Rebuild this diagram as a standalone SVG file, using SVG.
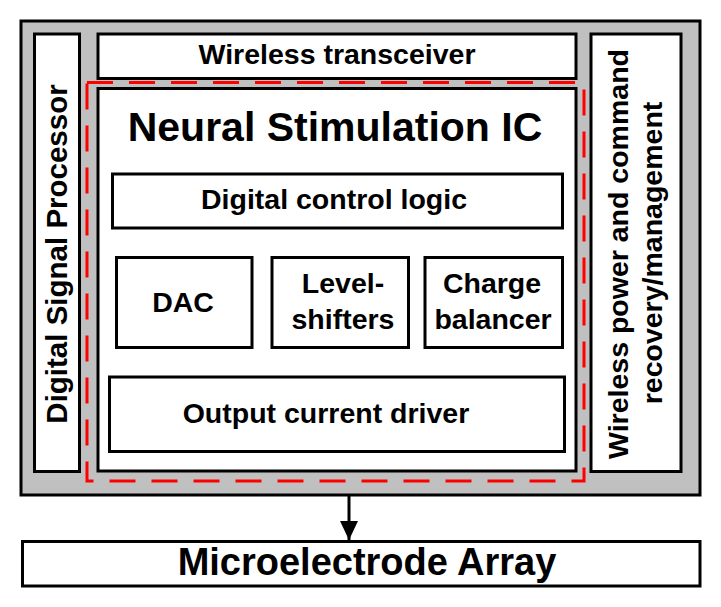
<svg xmlns="http://www.w3.org/2000/svg" width="721" height="607" viewBox="0 0 721 607">
<style>
.box{fill:#fff;stroke:#000;stroke-width:3}
.t{font-family:"Liberation Sans",Arial,sans-serif;font-weight:bold;font-size:28.5px;fill:#000;text-anchor:middle}
</style>
<defs>
<marker id="ah" markerWidth="19" markerHeight="18" refX="19" refY="9" orient="auto" markerUnits="userSpaceOnUse" viewBox="0 0 19 18">
<polygon points="0,0 19,9 0,18" fill="#000"/>
</marker>
</defs>
<rect width="721" height="607" fill="#fff"/>
<g id="implant"><rect x="21" y="21" width="679" height="474" fill="#c0c0c0" stroke="#000" stroke-width="3"/></g>
<g id="dsp"><rect class="box" x="34.5" y="34" width="45" height="437.5"/>
<text class="t" transform="translate(67,254) rotate(-90)" x="0" y="0" style="font-size:29.5px">Digital Signal Processor</text></g>
<g id="transceiver"><rect class="box" x="98" y="34" width="478" height="44.5"/>
<text class="t" x="337" y="64">Wireless transceiver</text></g>
<g id="stim-boundary"><rect x="87" y="82.5" width="497" height="398.5" fill="none" stroke="#ff0000" stroke-width="3" stroke-dasharray="26 16"/></g>
<g id="neural-ic"><rect class="box" x="98" y="88.5" width="478" height="382.5"/>
<text class="t" x="335" y="141" style="font-size:41px">Neural Stimulation IC</text></g>
<g id="control"><rect class="box" x="112.5" y="174" width="450" height="54"/>
<text class="t" x="334" y="209">Digital control logic</text></g>
<g id="dac"><rect class="box" x="116.5" y="257.5" width="135.5" height="90"/>
<text class="t" x="183" y="312">DAC</text></g>
<g id="level"><rect class="box" x="272" y="257.5" width="136.5" height="90"/>
<text class="t" x="343" y="293">Level-</text><text class="t" x="343" y="329">shifters</text></g>
<g id="charge"><rect class="box" x="425" y="257.5" width="137.5" height="90"/>
<text class="t" x="492" y="293">Charge</text><text class="t" x="493" y="329">balancer</text></g>
<g id="driver"><rect class="box" x="109.5" y="377" width="455" height="74.5"/>
<text class="t" x="326" y="423">Output current driver</text></g>
<g id="power"><rect class="box" x="591" y="34" width="90" height="437.5"/>
<text class="t" transform="translate(628,254) rotate(-90)">Wireless power and command</text>
<text class="t" transform="translate(662,253) rotate(-90)">recovery/management</text></g>
<g id="electrode"><rect class="box" x="22.5" y="541.5" width="677.5" height="44.5"/>
<text class="t" x="367" y="575" style="font-size:38px">Microelectrode Array</text></g>
<g id="connectors"><line x1="349" y1="496" x2="349" y2="540" stroke="#000" stroke-width="3" marker-end="url(#ah)"/></g>
</svg>
